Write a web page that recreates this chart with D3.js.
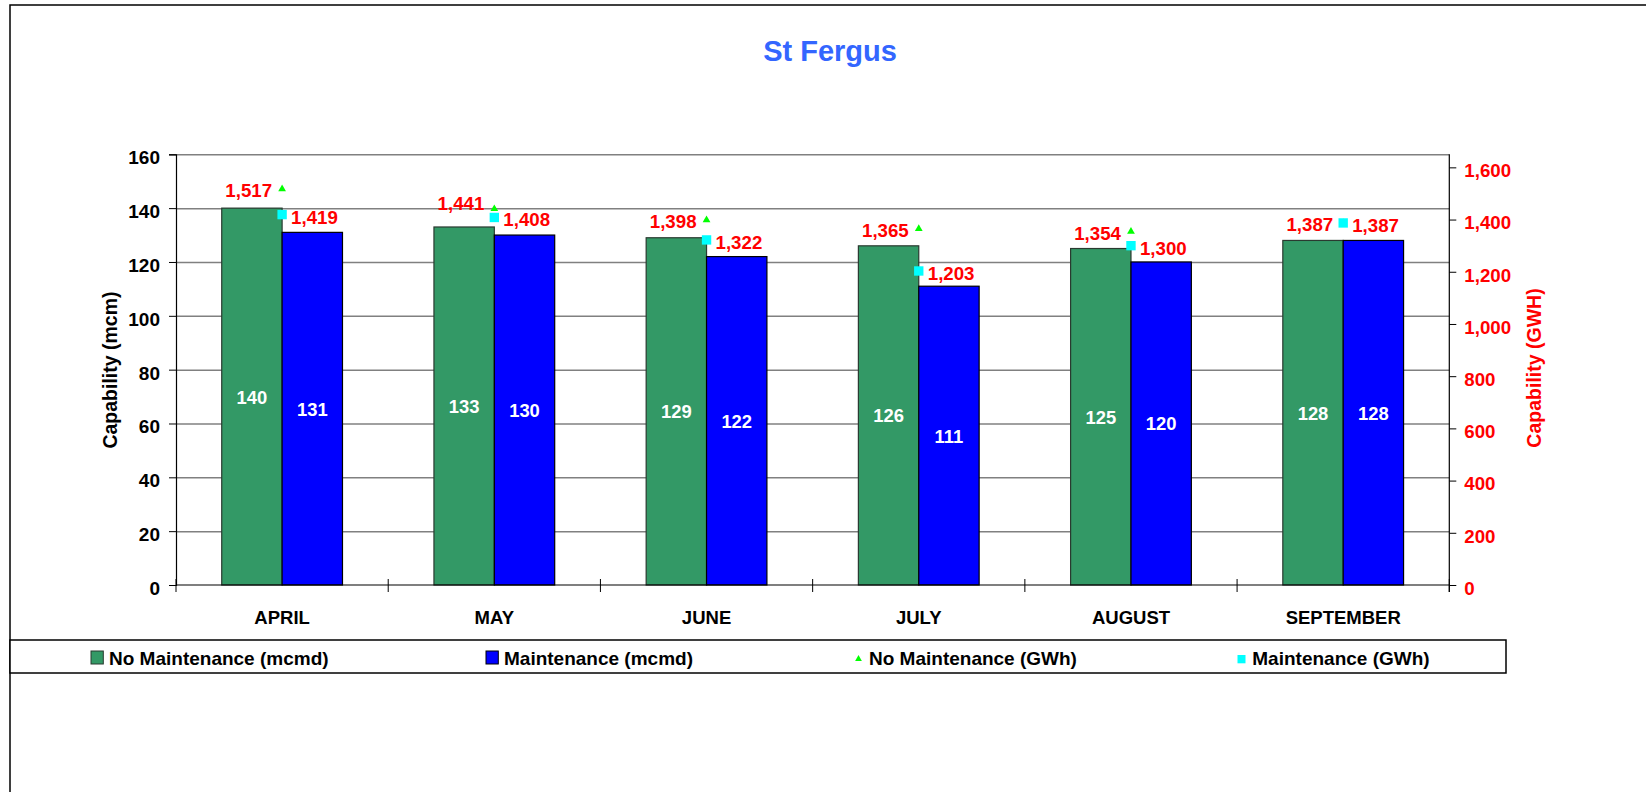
<!DOCTYPE html>
<html>
<head>
<meta charset="utf-8">
<script src="https://cdn.jsdelivr.net/npm/d3@7"></script>
<style>
  html, body { margin: 0; padding: 0; background: #fff; }
  svg { display: block; font-family: "Liberation Sans", Arial, sans-serif; }
</style>
</head>
<body>
<svg id="chart" width="1646" height="792"></svg>
<script>
// ---- data ----
const categories = ["APRIL", "MAY", "JUNE", "JULY", "AUGUST", "SEPTEMBER"];
const noMaintMcmd = [140, 133, 129, 126, 125, 128];
const maintMcmd   = [131, 130, 122, 111, 120, 128];
const noMaintGwh  = [1517, 1441, 1398, 1365, 1354, 1387];
const maintGwh    = [1419, 1408, 1322, 1203, 1300, 1387];
const leftTicks   = [0, 20, 40, 60, 80, 100, 120, 140, 160];
const rightTicks  = [0, 200, 400, 600, 800, 1000, 1200, 1400, 1600];
const seriesNames = ["No Maintenance (mcmd)", "Maintenance (mcmd)", "No Maintenance (GWh)", "Maintenance (GWh)"];

// ---- layout ----
const W = 1646, H = 792;
const plot = { left: 176, right: 1449.3, top: 154.3, bottom: 585 };
const FONT = 18.7;
const GREEN = "#339966", BLUE = "#0000FF", TRI = "#00FF00", SQ = "#00FFFF", RED = "#FF0000";
const triLabelLift = { MAY: -7.5 };   // label placement tweak as in the original

const svg = d3.select("#chart");
svg.append("rect").attr("width", W).attr("height", H).attr("fill", "#fff");

// outer chart border (extends beyond viewport on right/bottom)
svg.append("rect").attr("x", 10).attr("y", 5).attr("width", 1700).attr("height", 900)
  .attr("fill", "none").attr("stroke", "#000").attr("stroke-width", 1.5);

// title
svg.append("text").attr("x", 830).attr("y", 61).attr("text-anchor", "middle")
  .attr("font-size", 29).attr("font-weight", "bold").attr("fill", "#3366FF").text("St Fergus");

// scales
const x0 = d3.scaleBand().domain(categories).range([plot.left, plot.right])
  .paddingInner(0.431).paddingOuter(0.2155);
const x1 = d3.scaleBand().domain(["no", "maint"]).range([0, x0.bandwidth()]);
const yL = d3.scaleLinear().domain([0, 160]).range([plot.bottom, plot.top]);
const yR = d3.scaleLinear().domain([0, 1650]).range([plot.bottom, plot.top]);
const boundary = d3.scaleLinear().domain([0, categories.length]).range([plot.left, plot.right]);

// gridlines
const grid = svg.append("g").attr("transform", `translate(${plot.left},0)`)
  .call(d3.axisLeft(yL).tickValues(leftTicks.filter(d => d > 0)).tickSize(-(plot.right - plot.left)).tickFormat(""));
grid.select(".domain").remove();
grid.selectAll("line").attr("stroke", "#808080").attr("stroke-width", 1.5);

// bars
const rows = categories.map((c, i) => ({ c, no: noMaintMcmd[i], maint: maintMcmd[i], noG: noMaintGwh[i], mG: maintGwh[i] }));
const groups = svg.append("g").selectAll("g").data(rows).join("g")
  .attr("transform", d => `translate(${x0(d.c)},0)`);
const barData = d => [{ k: "no", v: d.no, fill: GREEN, stroke: "#2a3a30" }, { k: "maint", v: d.maint, fill: BLUE, stroke: "#000" }];
groups.selectAll("rect").data(barData).join("rect")
  .attr("x", d => x1(d.k)).attr("width", x1.bandwidth())
  .attr("y", d => yL(d.v)).attr("height", d => yL(0) - yL(d.v))
  .attr("fill", d => d.fill).attr("stroke", d => d.stroke).attr("stroke-width", 1.2);
groups.selectAll("text.inbar").data(barData).join("text").attr("class", "inbar")
  .attr("x", d => x1(d.k) + x1.bandwidth() / 2)
  .attr("y", d => (yL(d.v) + yL(0)) / 2 + 7)
  .attr("text-anchor", "middle").attr("font-size", 18.4).attr("font-weight", "bold")
  .attr("fill", "#fff").text(d => d.v);

// axes lines
svg.append("line").attr("x1", plot.left).attr("x2", plot.right).attr("y1", plot.bottom).attr("y2", plot.bottom)
  .attr("stroke", "#000").attr("stroke-width", 1.2);

// left axis
const axL = svg.append("g").attr("transform", `translate(${plot.left},0)`)
  .call(d3.axisLeft(yL).tickValues(leftTicks).tickSize(7).tickPadding(9));
axL.select(".domain").attr("stroke", "#000").attr("stroke-width", 1.2);
axL.selectAll("line").attr("stroke", "#000");
axL.selectAll("text").attr("font-size", 19).attr("font-weight", "bold").attr("fill", "#000")
  .attr("font-family", "Liberation Sans, Arial, sans-serif").attr("dy", "0.5em");

// right axis
const axR = svg.append("g").attr("transform", `translate(${plot.right},0)`)
  .call(d3.axisRight(yR).tickValues(rightTicks).tickSize(7).tickPadding(8).tickFormat(d3.format(",")));
axR.select(".domain").remove();
axR.selectAll("line").attr("stroke", "#000");
axR.selectAll("text").attr("font-size", FONT).attr("font-weight", "bold").attr("fill", RED)
  .attr("font-family", "Liberation Sans, Arial, sans-serif").attr("dy", "0.5em");
svg.append("line").attr("x1", plot.right).attr("x2", plot.right).attr("y1", plot.top).attr("y2", plot.bottom + 7)
  .attr("stroke", "#000").attr("stroke-width", 1.2);

// category boundary ticks (cross)
svg.append("g").selectAll("line").data(d3.range(categories.length + 1)).join("line")
  .attr("x1", d => boundary(d)).attr("x2", d => boundary(d))
  .attr("y1", plot.bottom - 6).attr("y2", plot.bottom + 7)
  .attr("stroke", "#000").attr("stroke-width", 1);

// category labels
const axB = svg.append("g").attr("transform", `translate(0,${plot.bottom})`)
  .call(d3.axisBottom(x0).tickSize(0).tickPadding(0));
axB.select(".domain").remove();
axB.selectAll("text").attr("font-size", 18.5).attr("font-weight", "bold").attr("fill", "#000")
  .attr("font-family", "Liberation Sans, Arial, sans-serif").attr("dy", 0).attr("y", 39);

// axis titles
svg.append("text").attr("transform", `translate(117,370) rotate(-90)`).attr("text-anchor", "middle")
  .attr("font-size", 19.5).attr("font-weight", "bold").attr("fill", "#000").text("Capability (mcm)");
svg.append("text").attr("transform", `translate(1541,368) rotate(-90)`).attr("text-anchor", "middle")
  .attr("font-size", 19.5).attr("font-weight", "bold").attr("fill", RED).text("Capability (GWH)");

// GWh markers and labels
const cx = d => x0(d.c) + x0.bandwidth() / 2;
const triSym = d3.symbol().type(d3.symbolTriangle).size(26);
const sqSym = d3.symbol().type(d3.symbolSquare).size(88);
const mk = svg.append("g");
mk.selectAll("path.tri").data(rows).join("path").attr("class", "tri")
  .attr("d", triSym).attr("fill", TRI)
  .attr("transform", d => `translate(${cx(d)},${yR(d.noG)})`);
mk.selectAll("path.sq").data(rows).join("path").attr("class", "sq")
  .attr("d", sqSym).attr("fill", SQ)
  .attr("transform", d => `translate(${cx(d)},${yR(d.mG)})`);
mk.selectAll("text.tl").data(rows).join("text").attr("class", "tl")
  .attr("x", d => cx(d) - 10).attr("y", d => yR(d.noG) + 8.2 + (triLabelLift[d.c] || 0))
  .attr("text-anchor", "end").attr("font-size", FONT).attr("font-weight", "bold").attr("fill", RED)
  .text(d => d3.format(",")(d.noG));
mk.selectAll("text.sl").data(rows).join("text").attr("class", "sl")
  .attr("x", d => cx(d) + 9).attr("y", d => yR(d.mG) + 9)
  .attr("text-anchor", "start").attr("font-size", FONT).attr("font-weight", "bold").attr("fill", RED)
  .text(d => d3.format(",")(d.mG));

// legend
const leg = svg.append("g");
leg.append("rect").attr("x", 10).attr("y", 640).attr("width", 1496).attr("height", 33)
  .attr("fill", "#fff").attr("stroke", "#000").attr("stroke-width", 1.5);
const legX = [91, 486, 855, 1237.5];
const legItems = seriesNames.map((n, i) => ({ n, x: legX[i], i }));
const li = leg.selectAll("g.li").data(legItems).join("g").attr("class", "li")
  .attr("transform", d => `translate(${d.x},657.5)`);
li.each(function (d) {
  const g = d3.select(this);
  if (d.i === 0 || d.i === 1) {
    g.append("rect").attr("x", 0).attr("y", -6.5).attr("width", 12.3).attr("height", 13)
      .attr("fill", d.i === 0 ? GREEN : BLUE).attr("stroke", d.i === 0 ? "#2a3a30" : "#000").attr("stroke-width", 1);
    g.append("text").attr("x", 18).attr("y", 7.6).text(d.n);
  } else if (d.i === 2) {
    g.append("path").attr("d", d3.symbol().type(d3.symbolTriangle).size(20)).attr("fill", TRI)
      .attr("transform", "translate(3.5,1.5)");
    g.append("text").attr("x", 14).attr("y", 7.6).text(d.n);
  } else {
    g.append("rect").attr("x", 0).attr("y", -2.5).attr("width", 8).attr("height", 8.3).attr("fill", SQ);
    g.append("text").attr("x", 14.8).attr("y", 7.6).text(d.n);
  }
});
li.selectAll("text").attr("font-size", 19).attr("font-weight", "bold").attr("fill", "#000");
</script>
</body>
</html>
